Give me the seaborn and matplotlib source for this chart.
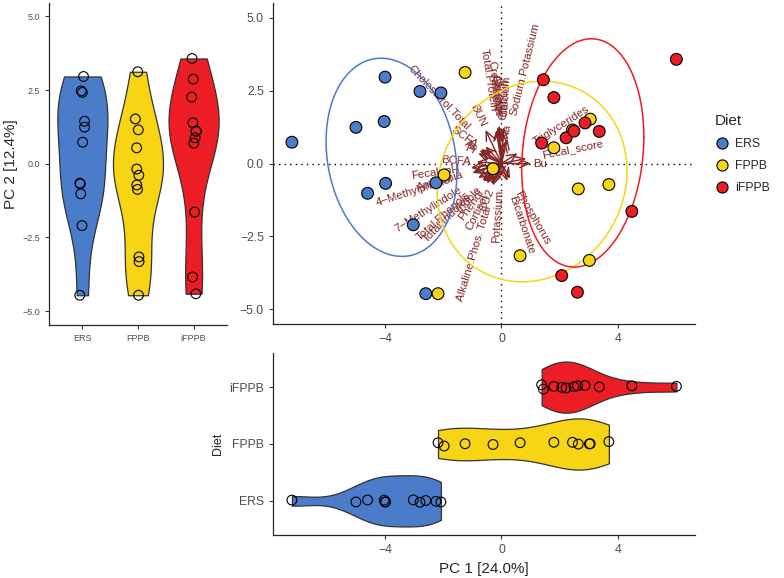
import numpy as np
import pandas as pd
import seaborn as sns
import matplotlib.pyplot as plt
from matplotlib.lines import Line2D

# --- data ---
diet_levels = ["ERS", "FPPB", "iFPPB"]
diet_colors = ["#4A7CC9", "#F8D514", "#EC1D25"]

ers_pc1 = [-7.20, -4.00, -2.80, -2.08, -5.00, -4.03, -3.98, -4.60, -2.25, -3.03, -2.60]
ers_pc2 = [0.73, 2.96, 2.47, 2.42, 1.24, 1.44, -0.68, -1.02, -0.66, -2.10, -4.46]
fppb_pc1 = [-1.25, -1.97, -0.29, 0.64, -2.18, 3.05, 2.44, 1.80, 2.64, 3.69, 3.02]
fppb_pc2 = [3.12, -0.39, -0.18, -3.16, -4.46, 1.52, 1.15, 0.54, -0.87, -0.72, -3.32]
ifppb_pc1 = [1.44, 1.80, 1.38, 2.22, 2.07, 6.01, 2.87, 2.49, 3.36, 4.48, 2.61]
ifppb_pc2 = [2.87, 2.26, 0.70, 0.88, -3.84, 3.57, 1.39, 1.11, 1.10, -1.64, -4.41]

# variable loadings (biplot arrows, already in PC score units)
var_names = ["Bu", "Fecal_score", "Triglycerides", "Sodium.Potassium", "Na",
             "Phosphorus", "Bicarbonate", "Creatinine", "Total.Protein", "Albumin",
             "Chloride", "Globulin", "Calcium", "BUN", "Cholesterol.Total",
             "Ac", "Pr", "SCFA", "BCFA", "Fecal_pH", "Ammonia", "4\u2212Methylphenol",
             "7\u2212Methylindole", "Total.Phenols", "Total.Indoles", "Indole", "Phenol",
             "CO2", "Cortisol", "Alkaline.Phos. Total", "Potassium"]
var_pc1 = [1.00, 0.85, 0.55, 0.21, 0.12,
           0.30, 0.20, -0.12, -0.18, -0.08,
           -0.10, 0.05, 0.08, -0.55, -0.55,
           -0.75, -0.80, -0.70, -0.85, -1.05, -0.95, -1.00,
           -0.80, -0.65, -0.62, -0.55, -0.50,
           -0.30, -0.35, -0.15, -0.03]
var_pc2 = [0.00, 0.17, 0.35, 0.85, 0.75,
           -0.52, -0.60, 1.25, 1.15, 1.30,
           1.20, 1.10, 1.25, 1.15, 0.58,
           0.45, 0.35, 0.50, 0.05, -0.15, -0.28, -0.32,
           -0.50, -0.58, -0.62, -0.62, -0.68,
           -0.75, -0.70, -0.50, -0.45]

df = pd.DataFrame({
    "Diet": np.repeat(diet_levels, len(ers_pc1)),
    "PC1": ers_pc1 + fppb_pc1 + ifppb_pc1,
    "PC2": ers_pc2 + fppb_pc2 + ifppb_pc2,
})
palette = dict(zip(diet_levels, diet_colors))

sns.set_theme(style="ticks")
plt.rcParams["font.family"] = ["Liberation Sans", "DejaVu Sans"]
plt.rcParams["axes.linewidth"] = 0.9
np.random.seed(3)

fig = plt.figure(figsize=(7.84, 5.78), dpi=100)
ax_left = fig.add_axes([0.0625, 0.4377, 0.2270, 0.5570])
ax_main = fig.add_axes([0.3482, 0.4394, 0.5383, 0.5554])
ax_bot = fig.add_axes([0.3482, 0.0744, 0.5383, 0.3149])

tick_col = "#4D4D4D"
arrow_col = "#832424"
label_size = 8.2
yticks = [-5, -2.5, 0, 2.5, 5]


def style_axis(ax, size):
    sns.despine(ax=ax)
    ax.tick_params(labelsize=size, labelcolor=tick_col, length=3, width=0.8, color="#333333")


# --- left: PC2 violins ---
sns.violinplot(data=df, x="Diet", y="PC2", hue="Diet", palette=palette, order=diet_levels,
               cut=0, inner=None, density_norm="area", bw_adjust=0.85, width=0.9,
               linewidth=0.9, linecolor="#333333", saturation=1, legend=False, ax=ax_left)
n0 = len(ax_left.collections)
sns.stripplot(data=df, x="Diet", y="PC2", order=diet_levels, color="black", jitter=0.05,
              size=7, linewidth=0.8, edgecolor="black", ax=ax_left)
for coll in ax_left.collections[n0:]:
    coll.set_facecolor("none")
ax_left.set_xlim(-0.6, 2.6)
ax_left.set_ylim(-5.47, 5.45)
ax_left.set_yticks(yticks)
ax_left.set_yticklabels([f"{t:.1f}".replace("-", "\u2212") for t in yticks])
ax_left.set_xlabel("")
ax_left.set_ylabel("PC 2 [12.4%]", fontsize=11, labelpad=3)
style_axis(ax_left, 6.5)

# --- main: biplot ---
ax_main.axhline(0, color="black", ls=(0, (1, 3)), lw=1, zorder=1)
ax_main.axvline(0, color="black", ls=(0, (1, 3)), lw=1, zorder=1)

for name, vx, vy in zip(var_names, var_pc1, var_pc2):
    ax_main.annotate("", xy=(vx, vy), xytext=(0, 0),
                     arrowprops=dict(arrowstyle="->,head_length=0.55,head_width=0.25",
                                     color=arrow_col, lw=1.0, shrinkA=0, shrinkB=0),
                     zorder=2)
    ang = np.degrees(np.arctan(vy / vx))
    r = np.hypot(vx, vy)
    off = 0.25 * len(name) * 0.52 * label_size
    ax_main.annotate(name, xy=(vx, vy), xytext=(off * vx / r, off * vy / r),
                     textcoords="offset points", rotation=ang, rotation_mode="anchor",
                     ha="left" if vx > 0 else "right", va="center",
                     fontsize=label_size, color=arrow_col, zorder=3)

# 68% normal ellipses per diet
theta = np.linspace(0, 2 * np.pi, 120)
circle = np.column_stack([np.cos(theta), np.sin(theta)])
ed = np.sqrt(-2 * np.log(1 - 0.68))
for diet, color in palette.items():
    sub = df.loc[df["Diet"] == diet, ["PC1", "PC2"]].to_numpy()
    upper = np.linalg.cholesky(np.cov(sub.T)).T
    ell = circle @ upper * ed + sub.mean(axis=0)
    ax_main.plot(ell[:, 0], ell[:, 1], color=color, lw=1.1, zorder=4)

sns.scatterplot(data=df, x="PC1", y="PC2", hue="Diet", palette=palette, hue_order=diet_levels,
                s=72, edgecolor="black", linewidth=0.8, legend=False, ax=ax_main, zorder=5)
ax_main.set_xlim(-7.85, 6.65)
ax_main.set_ylim(-5.5, 5.5)
ax_main.set_xticks([-4, 0, 4])
ax_main.set_yticks(yticks)
ax_main.set_yticklabels([f"{t:.1f}".replace("-", "\u2212") for t in yticks])
ax_main.set_xlabel("")
ax_main.set_ylabel("")
style_axis(ax_main, 8.8)

handles = [Line2D([], [], marker="o", ls="", markerfacecolor=c, markeredgecolor="black",
                  markeredgewidth=0.8, markersize=8) for c in diet_colors]
leg = fig.legend(handles, diet_levels, title="Diet", loc="upper left",
                 bbox_to_anchor=(712 / 784, 1 - 112 / 578), frameon=False, fontsize=8.8,
                 title_fontsize=11, handletextpad=0.5, handlelength=1.2,
                 labelspacing=0.8, borderpad=0.2, borderaxespad=0)
leg._legend_box.align = "left"

# --- bottom: PC1 violins ---
bot_order = ["iFPPB", "FPPB", "ERS"]
sns.violinplot(data=df, x="PC1", y="Diet", hue="Diet", palette=palette, order=bot_order,
               orient="h", cut=0, inner=None, density_norm="area", bw_adjust=0.85, width=0.9,
               linewidth=0.9, linecolor="#333333", saturation=1, legend=False, ax=ax_bot)
n0 = len(ax_bot.collections)
sns.stripplot(data=df, x="PC1", y="Diet", order=bot_order, orient="h", color="black",
              jitter=0.05, size=7, linewidth=0.8, edgecolor="black", ax=ax_bot)
for coll in ax_bot.collections[n0:]:
    coll.set_facecolor("none")
ax_bot.set_xlim(-7.85, 6.65)
ax_bot.set_ylim(2.6, -0.6)
ax_bot.set_xticks([-4, 0, 4])
ax_bot.set_xlabel("PC 1 [24.0%]", fontsize=11)
ax_bot.set_ylabel("Diet", fontsize=9)
style_axis(ax_bot, 8.8)

fig.savefig("out.png", dpi=100)
